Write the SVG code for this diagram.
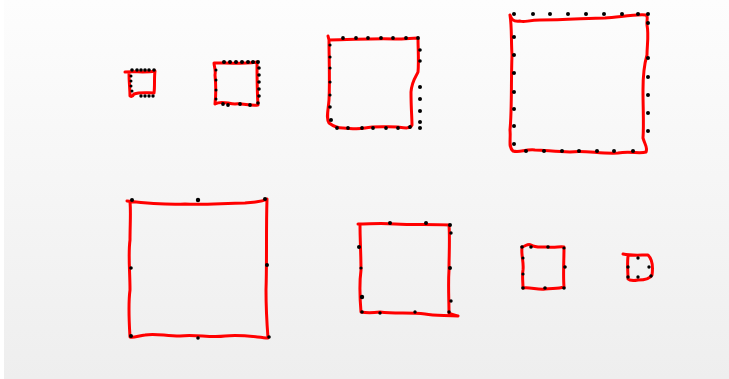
<svg xmlns="http://www.w3.org/2000/svg" width="729" height="379" viewBox="0 0 729 379">
<defs>
<linearGradient id="bg" x1="0" y1="0" x2="0" y2="1">
<stop offset="0" stop-color="#fdfdfd"/>
<stop offset="1" stop-color="#eeeeee"/>
</linearGradient>
<style>
.sq{fill:none;stroke:#ff0000;stroke-width:3;stroke-linecap:round;stroke-linejoin:round}
.d{fill:#000}
</style>
</defs>
<rect x="0" y="0" width="729" height="379" fill="url(#bg)"/>
<rect x="0" y="0" width="4" height="379" fill="#ffffff"/>

<g id="sq1">
<path class="sq" d="M125,72 C135,71 145,73 155,71 C154,78 155,86 154,93 C147,93 140,92 134,94 C133,96 132,97 130,96 C130,89 129,82 129,73"/>
<g class="d">
<circle cx="132" cy="70" r="1.8"/><circle cx="137" cy="70" r="1.8"/><circle cx="141" cy="70" r="1.8"/><circle cx="145" cy="70" r="1.8"/><circle cx="149" cy="70" r="1.8"/><circle cx="154" cy="70" r="1.8"/>
<circle cx="131" cy="76" r="1.5"/><circle cx="131" cy="81" r="1.5"/><circle cx="131" cy="86" r="1.5"/><circle cx="132" cy="91" r="1.5"/>
<circle cx="141" cy="96" r="1.7"/><circle cx="145" cy="96" r="1.7"/><circle cx="149" cy="96" r="1.7"/><circle cx="153" cy="96" r="1.7"/>
</g>
</g>

<g id="sq2">
<path class="sq" d="M214,63 C228,63 244,64 257,62 C257,75 257,90 258,105 C250,106 242,103 235,104 C228,104 222,100 215,104 C216,95 216,85 215,75 C216,70 214,66 214,63"/>
<g class="d">
<circle cx="224" cy="62" r="2"/><circle cx="230" cy="62" r="2"/><circle cx="236" cy="62" r="2"/><circle cx="242" cy="62" r="2"/><circle cx="248" cy="62" r="2"/><circle cx="253" cy="62" r="2"/><circle cx="258" cy="62" r="2"/>
<circle cx="259" cy="68" r="1.8"/><circle cx="259" cy="75" r="1.8"/><circle cx="259" cy="82" r="1.8"/><circle cx="259" cy="89" r="1.8"/><circle cx="259" cy="96" r="1.8"/><circle cx="258" cy="103" r="1.8"/>
<circle cx="216" cy="70" r="1.5"/><circle cx="216" cy="80" r="1.5"/><circle cx="216" cy="90" r="1.5"/><circle cx="216" cy="99" r="1.5"/>
<circle cx="223" cy="104" r="1.9"/><circle cx="228" cy="105" r="1.9"/><circle cx="240" cy="104" r="1.9"/><circle cx="250" cy="105" r="1.9"/>
</g>
</g>

<g id="sq3">
<path class="sq" d="M328,36 L329,40 C350,40 375,38 395,39 C405,39 412,38 418,38 C418,50 419,60 418,72 C416,77 412,80 411,92 C411,108 412,118 412,125 C410,129 405,128 398,127 C385,127 375,126 365,128 C355,130 350,128 343,128 C338,128 333,126 329,123 C326,118 328,112 329,100 C330,80 329,60 329,40"/>
<g class="d">
<circle cx="343" cy="38" r="1.9"/><circle cx="356" cy="38" r="1.9"/><circle cx="368" cy="38" r="1.9"/><circle cx="381" cy="38" r="1.9"/><circle cx="393" cy="38" r="1.9"/><circle cx="406" cy="38" r="1.9"/><circle cx="418" cy="38" r="1.9"/>
<circle cx="330" cy="45" r="1.6"/><circle cx="330" cy="57" r="1.6"/><circle cx="330" cy="68" r="1.6"/><circle cx="330" cy="82" r="1.6"/><circle cx="330" cy="95" r="1.6"/><circle cx="330" cy="107" r="1.8"/><circle cx="331" cy="120" r="2"/>
<circle cx="420" cy="50" r="1.8"/><circle cx="420" cy="61" r="1.8"/><circle cx="420" cy="87" r="2"/><circle cx="420" cy="99" r="2"/><circle cx="420" cy="111" r="2"/><circle cx="420" cy="122" r="2"/><circle cx="420" cy="128" r="2"/>
<circle cx="337" cy="128" r="1.9"/><circle cx="348" cy="128" r="1.9"/><circle cx="362" cy="128" r="1.9"/><circle cx="373" cy="128" r="1.9"/><circle cx="386" cy="128" r="1.9"/><circle cx="398" cy="128" r="1.9"/><circle cx="410" cy="127" r="1.9"/>
</g>
</g>

<g id="sq4">
<path class="sq" d="M510,15 C511,18 512,22 520,21 C524,23 528,20 540,20 C565,20 590,18 605,18 C620,17 635,14 646,15 C649,17 646,22 647,25 C649,35 647,45 647,55 C644,65 643,75 643,90 C643,110 644,125 643,138 C645,145 648,148 646,152 C640,154 630,151 618,153 C600,154 585,150 570,152 C555,152 545,150 535,150 C525,149 520,153 513,151 C508,147 511,140 510,130 C512,110 511,80 512,55 C511,40 512,28 510,15"/>
<g class="d">
<circle cx="514" cy="14" r="2"/><circle cx="533" cy="14" r="2"/><circle cx="550" cy="14" r="2"/><circle cx="568" cy="14" r="2"/><circle cx="586" cy="14" r="2"/><circle cx="604" cy="14" r="2"/><circle cx="622" cy="14" r="2"/><circle cx="638" cy="14" r="2"/><circle cx="648" cy="14" r="2"/>
<circle cx="514" cy="37" r="2"/><circle cx="514" cy="55" r="2"/><circle cx="514" cy="73" r="2"/><circle cx="514" cy="92" r="2"/><circle cx="514" cy="109" r="2"/><circle cx="514" cy="126" r="2"/><circle cx="514" cy="144" r="2"/>
<circle cx="648" cy="23" r="2"/><circle cx="648" cy="58" r="2"/><circle cx="648" cy="77" r="2"/><circle cx="648" cy="95" r="2"/><circle cx="648" cy="113" r="2"/><circle cx="648" cy="131" r="2"/>
<circle cx="526" cy="151" r="2"/><circle cx="544" cy="151" r="2"/><circle cx="562" cy="151" r="2"/><circle cx="579" cy="151" r="2"/><circle cx="597" cy="151" r="2"/><circle cx="614" cy="151" r="2"/><circle cx="633" cy="151" r="2"/>
</g>
</g>

<g id="sq5">
<path class="sq" d="M127,201 C145,203 165,205 185,204 C205,205 225,203 245,203 C255,202 262,202 267,199 C266,230 267,260 266,290 C266,310 267,325 268,338 C255,337 240,334 225,336 C210,338 195,334 180,336 C165,336 155,333 145,335 C138,336 133,338 130,337 C129,320 128,305 130,290 C130,270 128,255 130,240 C130,225 131,212 130,202"/>
<g class="d">
<circle cx="132" cy="200" r="2"/><circle cx="198" cy="200" r="2.2"/><circle cx="265" cy="199" r="2"/>
<circle cx="131" cy="268" r="1.8"/><circle cx="267" cy="265" r="2"/>
<circle cx="131" cy="336" r="2"/><circle cx="198" cy="338" r="1.8"/><circle cx="269" cy="337" r="1.8"/>
</g>
</g>

<g id="sq6">
<path class="sq" d="M358,224 C370,224 380,223 395,224 C415,225 430,224 449,225 C450,240 449,255 449,270 C448,285 449,300 449,313 C452,315 455,315 458,316 C445,315 435,316 425,314 C410,312 395,314 380,312 C372,313 366,313 361,312 C360,300 359,285 361,270 C361,255 360,240 360,224"/>
<g class="d">
<circle cx="390" cy="223" r="2"/><circle cx="426" cy="223" r="2"/><circle cx="450" cy="225" r="2"/>
<circle cx="451" cy="233" r="1.7"/><circle cx="450" cy="268" r="2"/><circle cx="451" cy="301" r="1.7"/>
<circle cx="359" cy="247" r="2"/><circle cx="361" cy="268" r="1.6"/><circle cx="362" cy="297" r="2.2"/>
<circle cx="362" cy="312" r="1.8"/><circle cx="380" cy="313" r="1.7"/><circle cx="415" cy="312" r="1.7"/><circle cx="449" cy="312" r="1.7"/>
</g>
</g>

<g id="sq7">
<path class="sq" d="M522,247 C526,246 528,243 531,245 C535,248 540,247 548,247 C555,248 560,246 564,247 C564,260 563,275 564,287 C558,289 552,288 545,289 C538,290 530,287 523,288 C523,282 522,276 523,270 C524,262 521,255 522,248"/>
<g class="d">
<circle cx="522" cy="247" r="1.8"/><circle cx="531" cy="247" r="1.8"/><circle cx="548" cy="247" r="1.8"/><circle cx="564" cy="248" r="1.6"/>
<circle cx="523" cy="258" r="1.6"/><circle cx="523" cy="274" r="1.6"/><circle cx="565" cy="267" r="1.8"/>
<circle cx="523" cy="288" r="1.8"/><circle cx="545" cy="288" r="1.8"/><circle cx="564" cy="288" r="1.8"/>
</g>
</g>

<g id="sq8">
<path class="sq" d="M623,254 C632,256 640,255 648,255 C653,260 653,268 652,275 C650,279 645,280 638,280 C633,281 629,280 628,279 C628,272 627,265 628,256"/>
<g class="d">
<circle cx="638" cy="258" r="1.7"/>
<circle cx="628" cy="267" r="1.7"/><circle cx="628" cy="277" r="1.7"/><circle cx="638" cy="277" r="1.7"/>
<circle cx="649" cy="267" r="1.7"/><circle cx="651" cy="276" r="1.7"/>
</g>
</g>
</svg>
